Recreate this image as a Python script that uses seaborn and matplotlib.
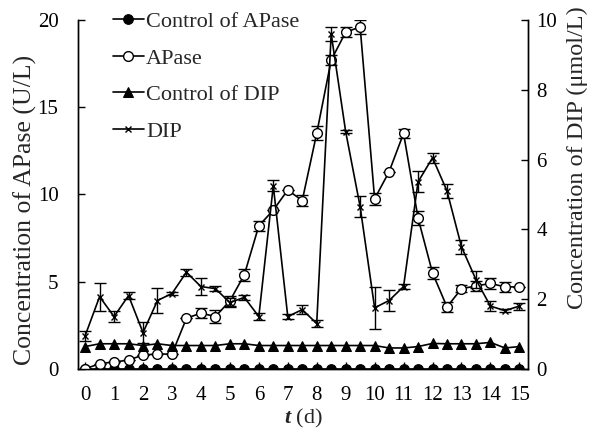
import numpy as np
import pandas as pd
import matplotlib
matplotlib.use('Agg')
import matplotlib.pyplot as plt
import seaborn as sns


# Data
days = [0, 0.5, 1, 1.5, 2, 2.5, 3, 3.5, 4, 4.5, 5, 5.5, 6, 6.5, 7, 7.5,
        8, 8.5, 9, 9.5, 10, 10.5, 11, 11.5, 12, 12.5, 13, 13.5, 14, 14.5, 15]

control_apase = [0.0] * 31

apase = [0.0, 0.3, 0.4, 0.5, 0.8, 0.85, 0.85, 2.9, 3.2, 3.0, 3.9, 5.4, 8.2, 9.1, 10.25, 9.65,
         13.5, 17.7, 19.3, 19.6, 9.75, 11.3, 13.5, 8.65, 5.5, 3.55, 4.6, 4.75, 4.9, 4.7, 4.7]
apase_err = [0, 0, 0, 0, 0, 0, 0, 0, 0.3, 0.35, 0.3, 0.35, 0.3, 0, 0, 0.3,
             0.4, 0.3, 0.3, 0.4, 0.35, 0, 0.25, 0.4, 0.35, 0.3, 0.2, 0.3, 0.3, 0.3, 0]

control_dip = [0.64, 0.72, 0.72, 0.72, 0.67, 0.72, 0.67, 0.67, 0.67, 0.67, 0.72, 0.72, 0.67, 0.67, 0.67, 0.67,
               0.67, 0.67, 0.67, 0.67, 0.67, 0.6, 0.6, 0.64, 0.73, 0.72, 0.72, 0.72, 0.76, 0.6, 0.64]

dip = [0.95, 2.07, 1.5, 2.1, 1.04, 1.96, 2.16, 2.77, 2.36, 2.3, 1.9, 2.05, 1.5, 5.25, 1.5, 1.7,
       1.3, 9.6, 6.8, 4.65, 1.75, 1.96, 2.36, 5.36, 6.05, 5.1, 3.5, 2.56, 1.8, 1.67, 1.8]
dip_err = [0.15, 0.4, 0.15, 0.1, 0.3, 0.35, 0.05, 0.1, 0.25, 0.08, 0.12, 0.08, 0.1, 0.15, 0.08, 0.12,
           0.1, 0.2, 0.05, 0.3, 0.6, 0.3, 0.07, 0.3, 0.15, 0.2, 0.2, 0.25, 0.15, 0.05, 0.1]

df = pd.DataFrame({'t': days, 'control_apase': control_apase, 'apase': apase,
                   'control_dip': control_dip, 'dip': dip})

sns.set_style('ticks')
plt.rcParams['font.family'] = ['Liberation Serif', 'DejaVu Serif']
plt.rcParams['mathtext.fontset'] = 'custom'
plt.rcParams['mathtext.it'] = 'Liberation Serif:italic:bold'
plt.rcParams['mathtext.rm'] = 'Liberation Serif'

fig = plt.figure(figsize=(5.9, 4.34), dpi=100)
ax = fig.add_axes([0.132, 0.150, 0.763, 0.804])
ax2 = ax.twinx()

lw = 1.2
ebkw = dict(fmt='none', ecolor='black', elinewidth=1.0, capsize=4, capthick=1.0)

# left axis: APase
ax.errorbar(df['t'], df['apase'], yerr=apase_err, zorder=2, **ebkw)
sns.lineplot(data=df, x='t', y='control_apase', ax=ax, color='black', lw=lw,
             marker='o', markersize=7, markerfacecolor='black', markeredgecolor='black',
             label='Control of APase', legend=False, zorder=3)
sns.lineplot(data=df, x='t', y='apase', ax=ax, color='black', lw=lw,
             marker='o', markersize=7, markerfacecolor='white', markeredgecolor='black',
             markeredgewidth=1.0, label='APase', legend=False, zorder=4)

# right axis: DIP
ax2.errorbar(df['t'], df['dip'], yerr=dip_err, zorder=2, **ebkw)
sns.lineplot(data=df, x='t', y='control_dip', ax=ax2, color='black', lw=lw,
             marker='^', markersize=7, markerfacecolor='black', markeredgecolor='black',
             label='Control of DIP', legend=False, zorder=3)
sns.lineplot(data=df, x='t', y='dip', ax=ax2, color='black', lw=lw,
             marker='x', markersize=5, markeredgewidth=1.0, markeredgecolor='black',
             label='DIP', legend=False, zorder=3)

ax.set_xlim(-0.25, 15.3)
ax.set_ylim(0, 20)
ax2.set_ylim(0, 10)
ax.set_xticks(range(16))
ax.set_xticks(np.arange(0.5, 15, 1), minor=True)
ax.set_yticks([0, 5, 10, 15, 20])
ax2.set_yticks([0, 2, 4, 6, 8, 10])

ax.spines['top'].set_visible(False)
ax2.spines['top'].set_visible(False)
for a in (ax, ax2):
    for s in a.spines.values():
        s.set_linewidth(1.0)
        s.set_color('black')

ax.tick_params(axis='both', direction='in', length=5, width=1.0, labelsize=15, colors='black')
ax.tick_params(axis='x', which='minor', direction='in', length=3, width=1.0)
ax2.tick_params(axis='y', direction='in', length=5, width=1.0, labelsize=15, colors='black', pad=6)
ax.tick_params(axis='x', which='major', pad=12)
ax.tick_params(axis='y', pad=14)

ax.set_xlabel('$t$ (d)', fontsize=16)
ax.set_ylabel('Concentration of APase (U/L)', fontsize=18.5)
ax2.set_ylabel('Concentration of DIP (μmol/L)', fontsize=17.5)
ax.xaxis.set_label_coords(0.5, -0.108)
ax.yaxis.set_label_coords(-0.091, 0.456)
ax2.yaxis.set_label_coords(1.087, 0.605)

h1, l1 = ax.get_legend_handles_labels()
h2, l2 = ax2.get_legend_handles_labels()
ax2.legend(h1 + h2, l1 + l2, loc='upper left', bbox_to_anchor=(0.058, 1.05),
           frameon=False, fontsize=16, handlelength=1.4, handletextpad=0.1,
           labelspacing=0.72, borderaxespad=0.0)

fig.savefig('out.png', dpi=100)
